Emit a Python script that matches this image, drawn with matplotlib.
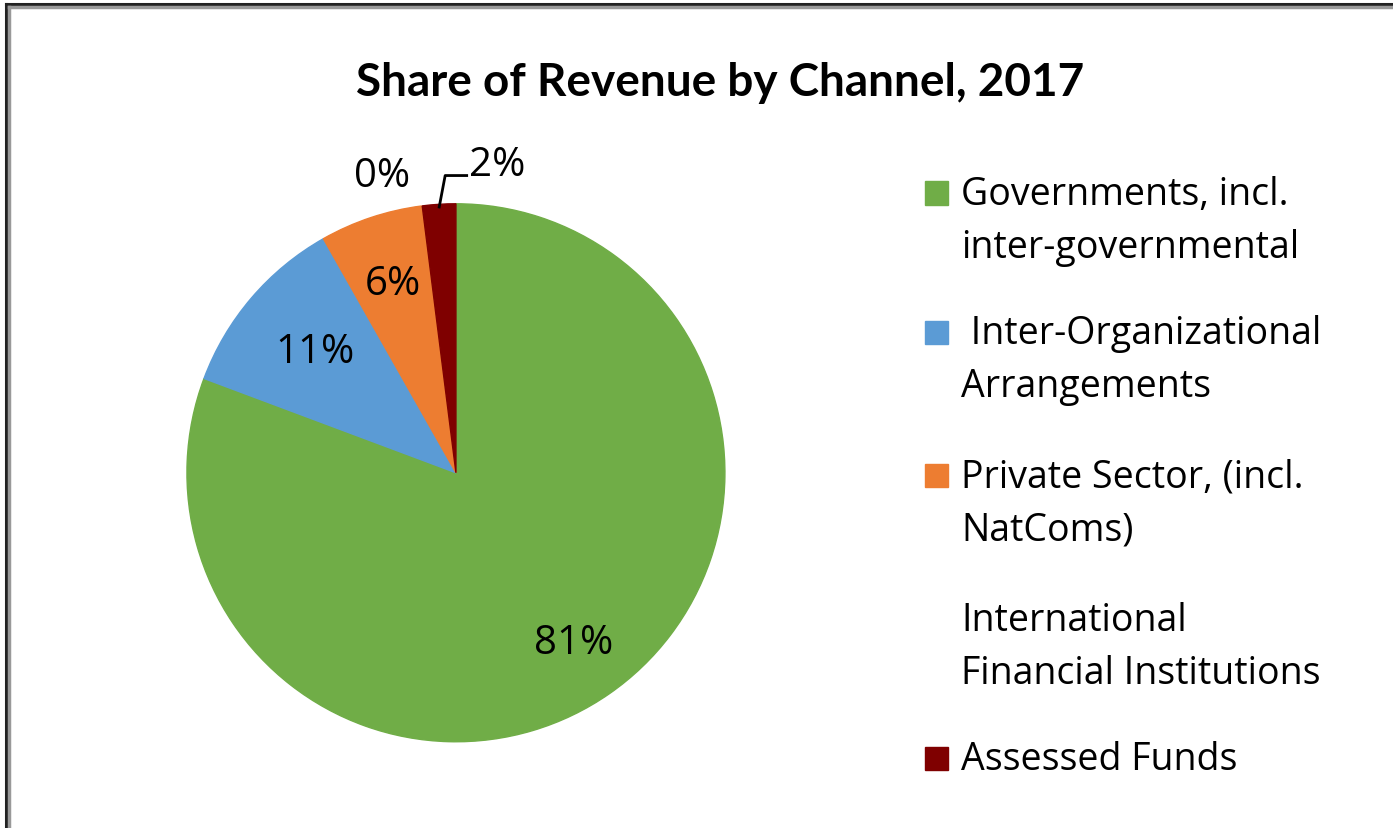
import numpy as np
import matplotlib
matplotlib.use("Agg")
import matplotlib.pyplot as plt
from matplotlib.patches import Rectangle
from matplotlib.lines import Line2D

plt.rcParams['font.family'] = ['Open Sans', 'DejaVu Sans']

# share of revenue by channel, 2017 (in %)
channels = ["Governments, incl.\ninter-governmental",
            " Inter-Organizational\nArrangements",
            "Private Sector, (incl.\nNatComs)",
            "International\nFinancial Institutions",
            "Assessed Funds"]
shares = [80.7, 11.1, 6.16, 0.04, 2.0]
colors = ["#70AD47", "#5B9BD5", "#ED7D31", "#FFFFFF", "#7F0000"]

fig = plt.figure(figsize=(13.93, 8.29), dpi=100)

# frame round the chart
fig.add_artist(Line2D([0.0045, 0.0045], [0, 0.994], color="#222222", lw=2.2))
fig.add_artist(Line2D([0.0045, 1], [0.994, 0.994], color="#222222", lw=2.2))
fig.add_artist(Line2D([0.0068, 0.0068], [0, 0.990], color="#999999", lw=2.5))
fig.add_artist(Line2D([0.0068, 1], [0.990, 0.990], color="#999999", lw=2.5))

fig.text(0.517, 0.900, "Share of Revenue by Channel, 2017", ha="center", va="center",
         fontsize=33, fontweight="bold", family=["Lato", "DejaVu Sans"])

ax = fig.add_axes([0.1342, 0.1040, 0.3862, 0.649])
wedges, _ = ax.pie(shares, colors=colors, startangle=90, counterclock=False,
                   radius=1.0)
for w in wedges:
    w.set_edgecolor(w.get_facecolor())
    w.set_linewidth(1.0)
wedges[3].set_visible(False)
ax.set_xlim(-1, 1)
ax.set_ylim(-1, 1)
ax.axis("off")

# labels inside the large slices
inner_r = [0.77, 0.69, 0.74]
for w, v, r in zip(wedges[:3], shares[:3], inner_r):
    mid = np.deg2rad((w.theta1 + w.theta2) / 2)
    ax.text(r * np.cos(mid), r * np.sin(mid), f"{v:.0f}%", ha="center", va="center",
            fontsize=29)

# small slices labelled outside
ax.text(-0.17, 1.105, f"{shares[3]:.0f}%", ha="right", va="center", fontsize=29)
w_ass = wedges[4]
mid = np.deg2rad((w_ass.theta1 + w_ass.theta2) / 2)
ax.plot([0.99 * np.cos(mid), -0.04, 0.04], [0.99 * np.sin(mid), 1.105, 1.105],
        color="black", lw=2, clip_on=False)
ax.text(0.05, 1.145, f"{shares[4]:.0f}%", ha="left", va="center", fontsize=29)

# legend
tops = [0.765, 0.597, 0.424, 0.251, 0.083]
for lab, c, y in zip(channels, colors, tops):
    if c != "#FFFFFF":
        fig.add_artist(Rectangle((0.664, y - 0.013), 0.0165, 0.028, color=c,
                                 transform=fig.transFigure))
    for k, line in enumerate(lab.split("\n")):
        fig.text(0.690, y - k * 0.064, line, ha="left", va="center", fontsize=27)

fig.savefig("out.png", dpi=100)
